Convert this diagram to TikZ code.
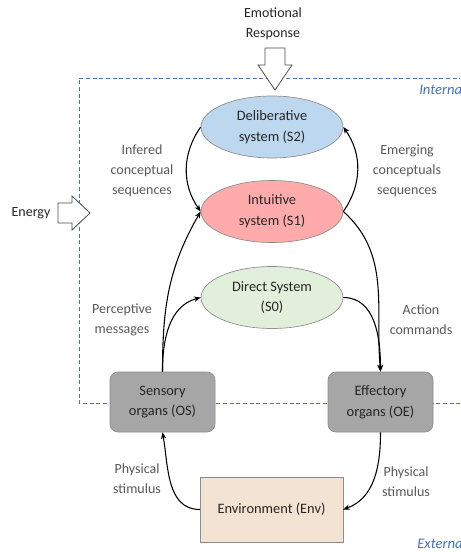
\documentclass[tikz,border=0pt]{standalone}
\usepackage{fontspec}
\setmainfont{Carlito}
\usetikzlibrary{shapes.geometric,arrows.meta}
\definecolor{dashblue}{HTML}{4472C4}
\definecolor{labelgray}{HTML}{595959}
\definecolor{textdark}{HTML}{262626}
\definecolor{edgegray}{HTML}{8C8C8C}
\definecolor{s2fill}{HTML}{BDD7EE}
\definecolor{s1fill}{HTML}{FFABAB}
\definecolor{s0fill}{HTML}{E2EFDA}
\definecolor{organfill}{HTML}{A6A6A6}
\definecolor{envfill}{HTML}{F3E3D3}
\tikzset{
  sysnode/.style={ellipse, draw=edgegray, line width=0.5pt, minimum width=106.5pt,
    minimum height=46.5pt, inner sep=0pt, align=center, text=textdark,
    font=\fontsize{10.8}{15.5}\selectfont},
  organ/.style={rectangle, rounded corners=6pt, draw=edgegray, line width=0.5pt,
    fill=organfill, minimum width=78.75pt, minimum height=45pt, inner sep=0pt,
    align=center, text=textdark, font=\fontsize{10.8}{15.5}\selectfont},
  envbox/.style={rectangle, draw=edgegray, line width=0.5pt, fill=envfill,
    minimum width=107pt, minimum height=48.5pt, inner sep=0pt, align=center,
    text=textdark, font=\fontsize{10.8}{15.5}\selectfont},
  lbl/.style={align=center, text=labelgray, inner sep=0pt,
    font=\fontsize{10.5}{15}\selectfont},
  zone/.style={text=dashblue, inner sep=0pt, anchor=west,
    font=\fontsize{11}{15}\selectfont\itshape},
  link/.style={-{Stealth[length=5pt,width=4pt]}, line width=0.8pt, black},
  bigarrow/.style={draw=black!70, line width=0.6pt, fill=white},
  boundary/.style={dashblue, line width=0.6pt, dash pattern=on 3pt off 2pt}
}
\begin{document}
\begin{tikzpicture}[x=0.75pt,y=0.75pt]
  \clip (0,0) rectangle (460,-552);
  \fill[white] (0,0) rectangle (460,-552);

  % internal / external boundary
  \draw[boundary] (470,-78) -- (79,-78) -- (79,-403) -- (470,-403);
  \node[zone] (internal) at (419,-89) {Internal};
  \node[zone] (external) at (417,-543) {External};

  % cognitive systems
  \node[sysnode, fill=s2fill] (s2) at (272,-127) {Deliberative\\system (S2)};
  \node[sysnode, fill=s1fill] (s1) at (272,-211.5) {Intuitive\\system (S1)};
  \node[sysnode, fill=s0fill] (s0) at (272,-297.5) {Direct System\\(S0)};

  % organs and environment
  \node[organ] (os) at (162.5,-402) {Sensory\\organs (OS)};
  \node[organ] (oe) at (380.5,-402) {Effectory\\organs (OE)};
  \node[envbox] (env) at (271.5,-509.5) {Environment (Env)};

  % emotional response input
  \node[lbl, text=textdark] (emo) at (273,-24) {Emotional\\Response};
  \draw[bigarrow] (265,-48) -- (285,-48) -- (285,-65) -- (292,-65) -- (275,-90)
    -- (258,-65) -- (265,-65) -- cycle;

  % energy input
  \node[lbl, text=textdark] (energy) at (31,-213) {Energy};
  \draw[bigarrow] (58,-203) -- (72,-203) -- (72,-196) -- (90,-213) -- (72,-230)
    -- (72,-223) -- (58,-223) -- cycle;

  % connectors
  \draw[link] (s2.west) to[out=235, in=125] (s1.west);
  \draw[link] (s1.east) to[out=55, in=-55] (s2.east);
  \draw[link] (os.north) to[out=90, in=240] (s1.west);
  \draw[link] (os.north) to[out=90, in=195] (s0.west);
  \draw[link] (s1.east) to[out=-42, in=95] (oe.north);
  \draw[link] (s0.east) to[out=0, in=90] (oe.north);
  \draw[link] (env.west) to[out=180, in=-80] (os.south);
  \draw[link] (oe.south) to[out=-90, in=20] (env.east);

  % connector labels
  \node[lbl] (infered) at (142,-171) {Infered\\conceptual\\sequences};
  \node[lbl] (emerging) at (407,-171) {Emerging\\conceptuals\\sequences};
  \node[lbl] (percept) at (122,-320) {Perceptive\\messages};
  \node[lbl] (action) at (421,-320) {Action\\commands};
  \node[lbl] (physl) at (137,-479) {Physical\\stimulus};
  \node[lbl] (physr) at (406,-482) {Physical\\stimulus};
\end{tikzpicture}
\end{document}
